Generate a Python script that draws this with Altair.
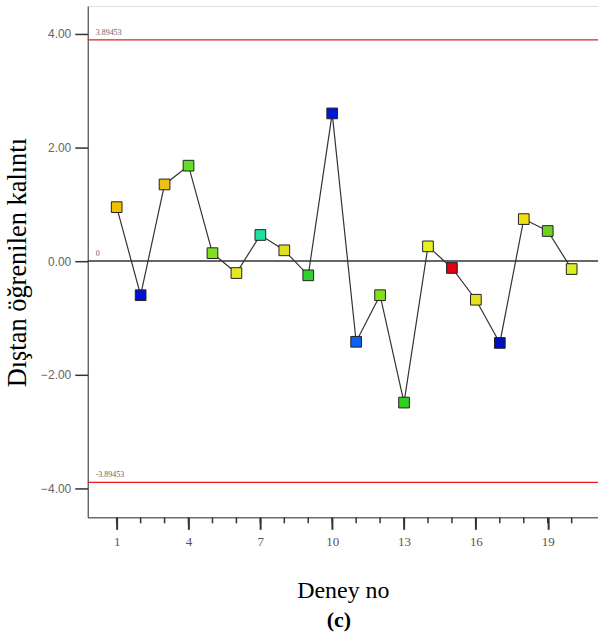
import altair as alt
import pandas as pd

run_no = list(range(1, 21))
residuals = [0.95, -0.60, 1.35, 1.68, 0.14, -0.21, 0.46, 0.19, -0.25, 2.60,
             -1.42, -0.60, -2.49, 0.26, -0.12, -0.68, -1.44, 0.74, 0.53, -0.14]
point_colors = ["#f0c000", "#0010d0", "#f0c010", "#60e020", "#80e020",
                "#e8e820", "#20e0a0", "#e0e020", "#30d030", "#0018d8",
                "#1060f0", "#80e010", "#30d020", "#e8f020", "#e00010",
                "#e8e020", "#0010c0", "#f0e010", "#70d020", "#d8f020"]
limit_values = [3.89453, -3.89453]
limit_labels = ["3.89453", "-3.89453"]
major_ticks = [1, 4, 7, 10, 13, 16, 19]
y_ticks = [-4, -2, 0, 2, 4]

df = pd.DataFrame({"run": run_no, "res": residuals, "col": point_colors})
lim_df = pd.DataFrame({"v": limit_values, "lab": limit_labels})
zero_df = pd.DataFrame({"v": [0.0], "lab": ["0"]})
minor_df = pd.DataFrame({"t": run_no})

W, H = 512, 513
xs = alt.Scale(domain=[-0.21, 21.1], nice=False, zero=False)
ys = alt.Scale(domain=[-4.51, 4.49], nice=False, zero=False)

x_enc = alt.X("run:Q", scale=xs, title="Deney no",
              axis=alt.Axis(values=major_ticks, tickSize=12, tickWidth=2, labelPadding=6,
                            grid=False, domainColor="#333", tickColor="#333",
                            labelFont="Liberation Serif", labelFontSize=13, labelColor="#555",
                            titleFont="Liberation Serif", titleFontSize=24, titleFontWeight="normal",
                            titleColor="#000", titlePadding=30))
y_enc = alt.Y("res:Q", scale=ys, title="Dıştan öğrenilen kalıntı",
              axis=alt.Axis(values=y_ticks, format=".2f", tickSize=13, tickWidth=1.5,
                            grid=False, domainColor="#333", tickColor="#333", labelPadding=4,
                            labelFont="Liberation Sans", labelFontSize=12, labelColor="#666",
                            titleFont="Liberation Serif", titleFontSize=26.5, titleFontWeight="normal",
                            titleColor="#000", titlePadding=9, titleY=257))

line = alt.Chart(df).mark_line(color="#333", strokeWidth=1.2).encode(x=x_enc, y=y_enc)
pts = alt.Chart(df).mark_point(shape="square", filled=True, size=115, stroke="#222",
                               strokeWidth=1, opacity=1).encode(
    x="run:Q", y="res:Q", fill=alt.Fill("col:N", scale=None))

lim = alt.Chart(lim_df).mark_rule(color="#e02020", strokeWidth=1.2).encode(y="v:Q")
lim_txt = alt.Chart(lim_df).mark_text(align="left", baseline="bottom", dx=8, dy=-3,
                                      font="Liberation Serif", fontSize=8, color="#666").encode(
    x=alt.value(0), y="v:Q", text="lab:N")
zero = alt.Chart(zero_df).mark_rule(color="#333", strokeWidth=1.5).encode(y="v:Q")
zero_txt = alt.Chart(zero_df).mark_text(align="left", baseline="bottom", dx=8, dy=-3,
                                        font="Liberation Serif", fontSize=8, color="#666").encode(
    x=alt.value(0), y="v:Q", text="lab:N")
minor = alt.Chart(minor_df).mark_rule(color="#333", strokeWidth=1.5).encode(
    x="t:Q", y=alt.value(H), y2=alt.value(H + 6))

sub = alt.Chart(zero_df).mark_text(text="(c)", font="Liberation Serif", fontSize=22,
                                   fontWeight="bold", color="#000").encode(
    x=alt.value(W / 2 - 4), y=alt.value(H + 103))

chart = alt.layer(lim, zero, lim_txt, zero_txt, minor, line, pts, sub).properties(
    width=W, height=H,
    autosize=alt.AutoSizeParams(type="none"),
    padding={"left": 88, "top": 5, "right": 0, "bottom": 118},
).configure_view(stroke="#333", strokeWidth=1.5).configure(background="white")

chart.save("out.html", embed_options={"renderer": "svg", "actions": False})
